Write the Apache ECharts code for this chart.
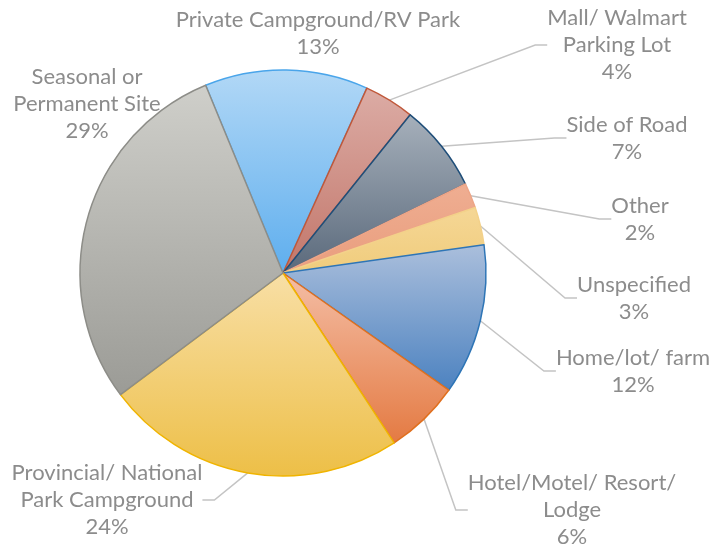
<!DOCTYPE html>
<html>
<head>
<meta charset="utf-8">
<script src="https://cdn.jsdelivr.net/npm/echarts@6/dist/echarts.min.js"></script>
<style>
  html, body { margin: 0; padding: 0; background: #fff; }
  #main { width: 717px; height: 550px; }
</style>
</head>
<body>
<div id="main"></div>
<script>
// data, clockwise from the Seasonal/Private boundary
var categories = [
  'Private Campground/RV Park',
  'Mall/ Walmart\nParking Lot',
  'Side of Road',
  'Other',
  'Unspecified',
  'Home/lot/ farm',
  'Hotel/Motel/ Resort/\nLodge',
  'Provincial/ National\nPark Campground',
  'Seasonal or\nPermanent Site'
];
var shares = [13, 4, 7, 2, 3, 12, 6, 24, 29];

// colours: gradient top, gradient bottom, border
var topColors = ['#b2d8f6', '#dcaca5', '#a6b0bb', '#efae92', '#f5d796', '#abbfdc', '#f4bea6', '#f8dfa6', '#cfcfca'];
var bottomColors = ['#5eaeee', '#c2766a', '#5a697b', '#e99d7d', '#f0cc7c', '#4c82c0', '#e47a42', '#edbf47', '#9b9b96'];
var borderColors = ['#4aa5ea', '#c0583a', '#1f4e79', '#eda587', '#f3d18a', '#2e75b6', '#e0701f', '#f0b400', '#8d8d88'];

// label anchor (centre of the text block)
var labelPos = [
  [318, 33], [617, 45], [627, 138], [640, 219], [634, 298],
  [633, 371], [572, 510], [107, 500], [87, 104]
];
var noLine = [0, 8];

var myChart = echarts.init(document.getElementById('main'));

var seriesData = categories.map(function (name, i) {
  return {
    name: name,
    value: shares[i],
    itemStyle: {
      color: new echarts.graphic.LinearGradient(0, 0, 0, 1, [
        { offset: 0, color: topColors[i] },
        { offset: 1, color: bottomColors[i] }
      ]),
      borderColor: borderColors[i],
      borderWidth: 1.5
    },
    labelLine: { show: noLine.indexOf(i) < 0 }
  };
});

var option = {
  animation: false,
  backgroundColor: '#fff',
  series: [{
    type: 'pie',
    center: [283, 273],
    radius: 203,
    startAngle: 112.4,
    clockwise: true,
    avoidLabelOverlap: false,
    data: seriesData,
    label: {
      show: true,
      position: 'outside',
      formatter: '{b}\n{d}%',
      fontFamily: 'Lato',
      fontSize: 22,
      lineHeight: 27,
      color: '#8c8c8c',
      align: 'center'
    },
    labelLine: {
      show: true,
      length: 20,
      length2: 12,
      lineStyle: { color: '#c4c4c4', width: 1.5 }
    },
    labelLayout: function (params) {
      var p = labelPos[params.dataIndex];
      return { x: p[0], y: p[1], align: 'center', verticalAlign: 'middle' };
    },
    emphasis: { disabled: true }
  }]
};

myChart.setOption(option);
window.onresize = function () {
  myChart.resize();
};
</script>
</body>
</html>
